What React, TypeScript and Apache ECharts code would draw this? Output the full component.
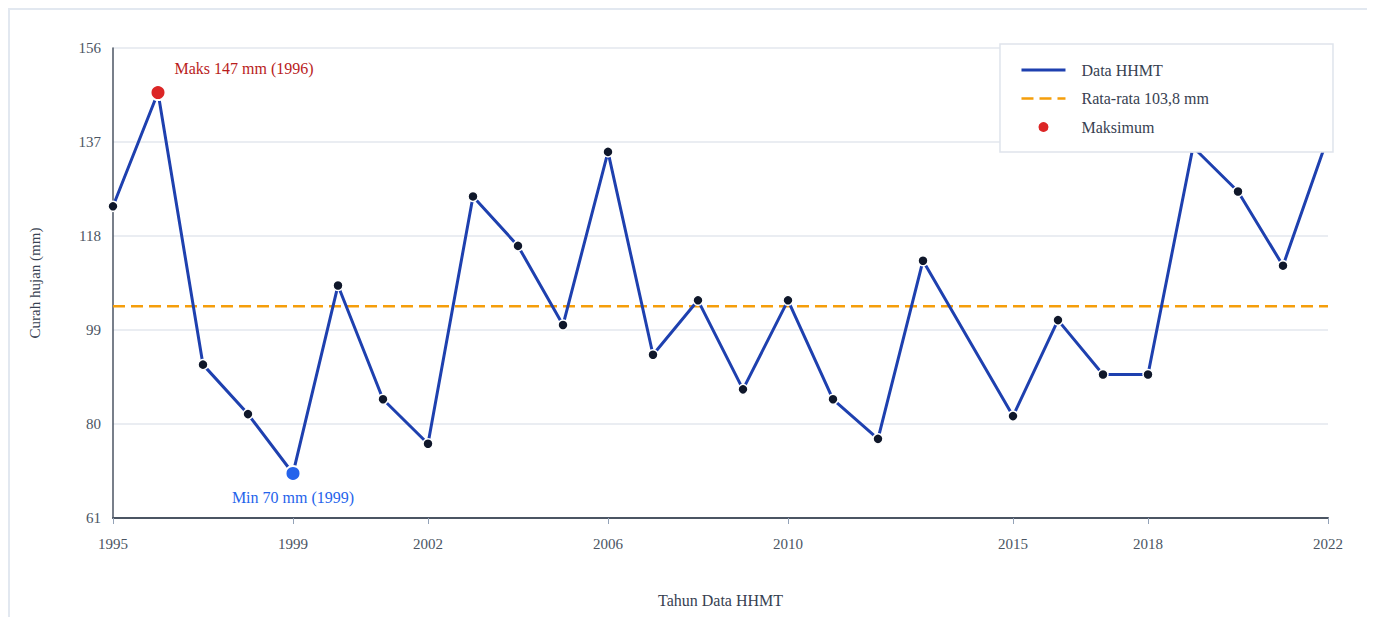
import React, { useEffect, useRef } from "react";
import * as echarts from "echarts";

const years = [
  1995, 1996, 1997, 1998, 1999, 2000, 2001, 2002, 2003, 2004, 2005, 2006, 2007, 2008,
  2009, 2010, 2011, 2012, 2013, 2015, 2016, 2017, 2018, 2019, 2020, 2021, 2022,
];
const rainfall = [
  124, 147, 92, 82, 70, 108, 85, 76, 126, 116, 100, 135, 94, 105,
  87, 105, 85, 77, 113, 81.6, 101, 90, 90, 136, 127, 112, 138,
];
const meanRainfall = 103.8;
const xTickYears = [1995, 1999, 2002, 2006, 2010, 2015, 2018, 2022];
const yTicks = [61, 80, 99, 118, 137, 156];
const lineName = "Data HHMT";
const meanName = "Rata-rata 103,8 mm";
const maxName = "Maksimum";
const minName = "Minimum";

const FONT = "'Liberation Serif', 'Times New Roman', serif";

export default function App() {
  const ref = useRef<HTMLDivElement>(null);

  useEffect(() => {
    document.documentElement.style.overflow = "hidden";
    document.body.style.overflow = "hidden";
    if (!ref.current) return;
    const chart = echarts.init(ref.current, undefined, { renderer: "svg" });

    const points = years.map((y, i) => [y, rainfall[i]]);
    let maxI = 0;
    let minI = 0;
    rainfall.forEach((v, i) => {
      if (v > rainfall[maxI]) maxI = i;
      if (v < rainfall[minI]) minI = i;
    });

    chart.setOption({
      animation: false,
      textStyle: { fontFamily: FONT },
      grid: { left: 103, right: 40, top: 38, bottom: 132 },
      legend: {
        data: [
          { name: lineName, itemStyle: { opacity: 0 }, lineStyle: { width: 3 } },
          { name: meanName, itemStyle: { opacity: 0 }, lineStyle: { width: 2.5 } },
          { name: maxName },
        ],
        orient: "vertical",
        right: 35,
        top: 34,
        itemWidth: 44,
        itemHeight: 12,
        itemGap: 12.5,
        padding: [18, 124, 17, 20],
        backgroundColor: "#ffffff",
        borderColor: "#dfe4ec",
        borderWidth: 1.5,
        textStyle: { fontSize: 16, color: "#374151", fontFamily: FONT, padding: [0, 0, 0, 11] },
      },
      xAxis: {
        type: "value",
        min: years[0],
        max: years[years.length - 1],
        name: "Tahun Data HHMT",
        nameLocation: "middle",
        nameGap: 74,
        nameTextStyle: { fontSize: 16, color: "#374151", fontFamily: FONT },
        axisLine: { lineStyle: { color: "#4b5563", width: 2 } },
        axisTick: { customValues: xTickYears, length: 6, lineStyle: { color: "#94a3b8", width: 1 } },
        axisLabel: {
          customValues: xTickYears,
          formatter: (v: number) => String(v),
          margin: 18,
          fontSize: 15,
          color: "#4b5563",
          fontFamily: FONT,
        },
        splitLine: { show: false },
      },
      yAxis: {
        type: "value",
        min: yTicks[0],
        max: yTicks[yTicks.length - 1],
        name: "Curah hujan (mm)",
        nameLocation: "middle",
        nameGap: 71,
        nameTextStyle: { fontSize: 15, color: "#374151", fontFamily: FONT },
        axisLine: { show: true, lineStyle: { color: "#4b5563", width: 1.5 } },
        axisTick: { show: false, customValues: yTicks },
        axisLabel: { customValues: yTicks, margin: 12, fontSize: 15, color: "#4b5563", fontFamily: FONT },
        splitLine: { show: true, lineStyle: { color: "#e3e7ee", width: 1.5 } },
      },
      series: [
        {
          name: meanName,
          type: "line",
          data: [
            [years[0], meanRainfall],
            [years[years.length - 1], meanRainfall],
          ],
          symbol: "none",
          lineStyle: { color: "#f59e0b", width: 2.5, type: [12, 6] },
          itemStyle: { color: "#f59e0b" },
          z: 1,
        },
        {
          name: lineName,
          type: "line",
          data: points,
          symbol: "circle",
          symbolSize: 10,
          lineStyle: { color: "#1e40af", width: 3 },
          itemStyle: { color: "#0f172a", borderColor: "#ffffff", borderWidth: 1.5 },
          z: 2,
        },
        {
          name: maxName,
          type: "scatter",
          data: [points[maxI]],
          symbolSize: 15,
          itemStyle: { color: "#dc2626", borderColor: "#ffffff", borderWidth: 2, opacity: 1 },
          label: {
            show: true,
            formatter: `Maks ${rainfall[maxI]} mm (${years[maxI]})`,
            position: "right",
            distance: 8,
            offset: [0, -24],
            color: "#b91c1c",
            fontSize: 16,
            fontFamily: FONT,
          },
          z: 3,
        },
        {
          name: minName,
          type: "scatter",
          data: [points[minI]],
          symbolSize: 15,
          itemStyle: { color: "#2563eb", borderColor: "#ffffff", borderWidth: 2, opacity: 1 },
          label: {
            show: true,
            formatter: `Min ${rainfall[minI]} mm (${years[minI]})`,
            position: "bottom",
            distance: 8,
            color: "#2563eb",
            fontSize: 16,
            fontFamily: FONT,
          },
          z: 3,
        },
      ],
    });

    return () => chart.dispose();
  }, []);

  return (
    <div
      style={{
        width: 1362,
        height: 660,
        border: "2px solid #e2e8f0",
        boxSizing: "border-box",
        background: "#ffffff",
      }}
    >
      <div ref={ref} style={{ width: 1358, height: 640 }} />
    </div>
  );
}
